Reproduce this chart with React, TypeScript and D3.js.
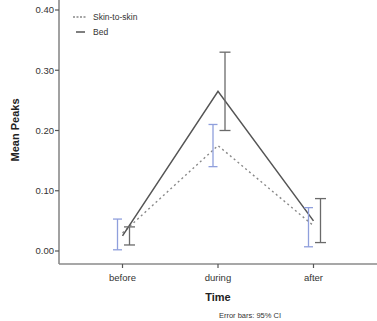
import React from "react";
import * as d3 from "d3";

const times = ["before", "during", "after"];
const skinMean = [0.03, 0.175, 0.042];
const skinLow = [0.002, 0.14, 0.007];
const skinHigh = [0.053, 0.21, 0.072];
const bedMean = [0.025, 0.265, 0.05];
const bedLow = [0.01, 0.2, 0.014];
const bedHigh = [0.04, 0.33, 0.087];
const yTicks = [0, 0.1, 0.2, 0.3, 0.4];

export default function App() {
  const width = 377;
  const height = 321;
  const axisX = 59;
  const axisY = 264;

  const x = d3.scalePoint().domain(times).range([axisX, 377]).padding(0.665);
  const y = d3.scaleLinear().domain([0, 0.4]).range([251, 10]);

  const line = d3
    .line<number>()
    .x((d, i) => x(times[i]) as number)
    .y((d) => y(d));

  const font = "'Liberation Sans', Arial, sans-serif";
  const axisCol = "#8a8a8a";

  const errorBar = (
    key: string,
    cx: number,
    lo: number,
    hi: number,
    color: string,
    cap: number
  ) => (
    <g key={key} stroke={color} strokeWidth={1.3}>
      <line x1={cx} x2={cx} y1={y(lo)} y2={y(hi)} />
      <line x1={cx - cap / 2} x2={cx + cap / 2} y1={y(lo)} y2={y(lo)} />
      <line x1={cx - cap / 2} x2={cx + cap / 2} y1={y(hi)} y2={y(hi)} />
    </g>
  );

  return (
    <svg
      width={width}
      height={height}
      style={{ position: "absolute", left: 0, top: 0, background: "#fff" }}
      fontFamily={font}
    >
      {/* axes */}
      <line x1={axisX} x2={axisX} y1={0} y2={axisY} stroke={axisCol} strokeWidth={1.6} />
      <line x1={axisX} x2={377} y1={axisY} y2={axisY} stroke={axisCol} strokeWidth={1.6} />
      {yTicks.map((t) => (
        <g key={t}>
          <line x1={axisX - 4} x2={axisX} y1={y(t)} y2={y(t)} stroke="#555" strokeWidth={1.2} />
          <text x={axisX - 5} y={y(t)} dy="0.35em" textAnchor="end" fontSize={9.5} fill="#333">
            {d3.format(".2f")(t)}
          </text>
        </g>
      ))}
      {times.map((t) => (
        <g key={t}>
          <line
            x1={x(t)}
            x2={x(t)}
            y1={axisY}
            y2={axisY + 4}
            stroke="#555"
            strokeWidth={1.2}
          />
          <text x={x(t)} y={axisY + 17} textAnchor="middle" fontSize={9.5} fill="#333">
            {t}
          </text>
        </g>
      ))}
      <text
        x={x("during")}
        y={axisY + 37}
        textAnchor="middle"
        fontSize={11}
        fontWeight="bold"
        fill="#222"
      >
        Time
      </text>
      <text
        transform={`translate(19,130) rotate(-90)`}
        textAnchor="middle"
        fontSize={11}
        fontWeight="bold"
        fill="#222"
      >
        Mean Peaks
      </text>
      <text x={250} y={318} textAnchor="middle" fontSize={7.5} fill="#333">
        Error bars: 95% CI
      </text>

      {/* lines */}
      <path
        d={line(skinMean) || ""}
        fill="none"
        stroke="#888"
        strokeWidth={1.4}
        strokeDasharray="2,3"
      />
      <path d={line(bedMean) || ""} fill="none" stroke="#555" strokeWidth={1.5} />

      {/* error bars */}
      {times.map((t, i) =>
        errorBar("s" + t, (x(t) as number) - 5, skinLow[i], skinHigh[i], "#8f9fdc", 9)
      )}
      {times.map((t, i) =>
        errorBar("b" + t, (x(t) as number) + 7, bedLow[i], bedHigh[i], "#6a6a6a", 11)
      )}

      {/* legend */}
      <line x1={73} x2={86} y1={17} y2={17} stroke="#888" strokeWidth={1.3} strokeDasharray="2,1.5" />
      <text x={93} y={17} dy="0.35em" fontSize={8.5} fill="#333">
        Skin-to-skin
      </text>
      <line x1={76} x2={85} y1={32} y2={32} stroke="#555" strokeWidth={1.5} />
      <text x={93} y={32} dy="0.35em" fontSize={8.5} fill="#333">
        Bed
      </text>
    </svg>
  );
}
